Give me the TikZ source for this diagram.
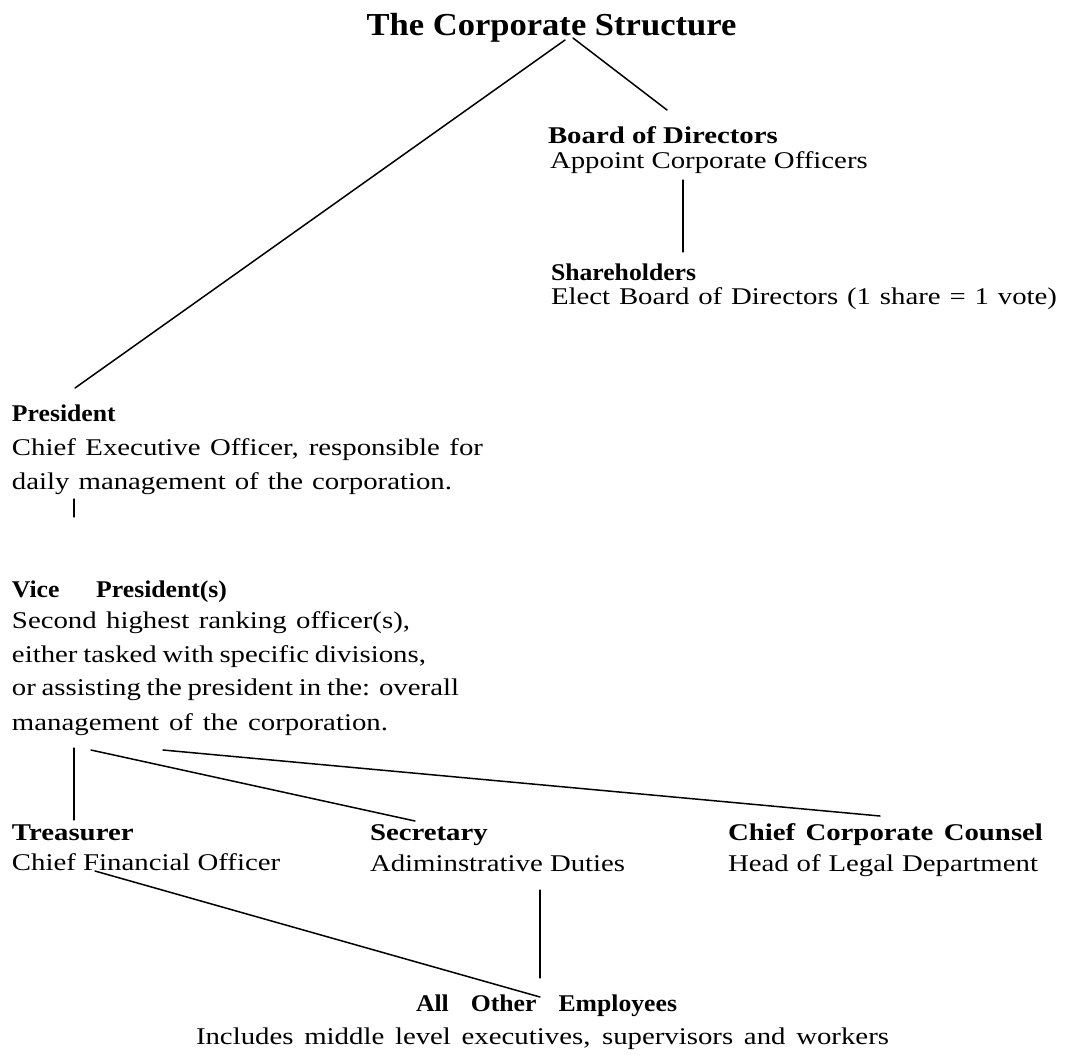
\documentclass[tikz,border=0pt]{standalone}
\usepackage{fontspec}
\setmainfont{Liberation Serif}[FakeStretch=1.2]
\newfontfamily\titlefont{Liberation Serif}[FakeStretch=1.08]
\newfontfamily\condfont{Liberation Serif}[FakeStretch=1.07]
\usetikzlibrary{calc}
\begin{document}
\begin{tikzpicture}[x=1pt,y=-1pt,
  txt/.style={anchor=base west,inner sep=0pt,outer sep=0pt,font=\fontsize{24}{30}\selectfont},
  hdr/.style={txt,font=\fontsize{24}{30}\selectfont\bfseries},
  condhdr/.style={txt,font=\fontsize{24}{30}\selectfont\condfont\bfseries},
  link/.style={line width=1.5pt,line cap=round},
  vlink/.style={line width=1.2pt,line cap=round}]
\useasboundingbox[fill=white] (0,0) rectangle (1067,1055);

% title
\node[anchor=base,inner sep=0pt,outer sep=0pt,font=\fontsize{32}{36}\selectfont\titlefont\bfseries] (title) at (551.5,35) {The Corporate Structure};

% right branch
\node[hdr] (board) at (548,143) {Board of Directors};
\node[txt] (appoint) at (550,168) {Appoint Corporate Officers};
\node[condhdr] (share) at (551,280) {Shareholders};
\node[txt] (elect) at (551,304) {\makebox[506pt][s]{Elect Board of Directors (1 share = 1 vote)}};

% president
\node[condhdr] (pres) at (12,421) {President};
\node[txt] (ceo) at (12,455) {\makebox[471pt][s]{Chief Executive Officer, responsible for}};
\node[txt] (daily) at (12,489) {\makebox[440pt][s]{daily management of the corporation.}};

% vice president
\node[condhdr] (vp) at (12,597) {\makebox[215pt][s]{Vice President(s)}};
\node[txt] (vp1) at (12,628) {\makebox[398pt][s]{Second highest ranking officer(s),}};
\node[txt] (vp2) at (12,662) {\makebox[414pt][s]{either tasked with specific divisions,}};
\node[txt] (vp3) at (12,695) {\makebox[447pt][s]{or assisting the president in the: overall}};
\node[txt] (vp4) at (12,730) {\makebox[376pt][s]{management of the corporation.}};

% officers
\node[hdr] (treas) at (12,840) {Treasurer};
\node[txt] (cfo) at (12,870) {Chief Financial Officer};
\node[hdr] (sec) at (370,840) {Secretary};
\node[txt] (admin) at (370,871) {Adiminstrative Duties};
\node[hdr] (counsel) at (728,840) {\makebox[315pt][s]{Chief Corporate Counsel}};
\node[txt] (legal) at (728,871) {\makebox[310pt][s]{Head of Legal Department}};

% employees
\node[condhdr,anchor=base] (allemp) at (546.5,1011) {\makebox[261pt][s]{All Other Employees}};
\node[txt,anchor=base] (incl) at (542.5,1044) {\makebox[693pt][s]{Includes middle level executives, supervisors and workers}};

% connectors
\draw[link] ($(title.base)+(13.5,5)$) -- ($(pres.base west)+(63,-33)$);
\draw[link] ($(title.base)+(21.5,3)$) -- ($(board.base west)+(119,-33)$);
\draw[vlink] ($(appoint.base west)+(133,12)$) -- ($(share.base west)+(132,-28)$);
\draw[vlink] ($(daily.base west)+(62,10)$) -- ($(vp.base west)+(62,-80)$);
\draw[vlink] ($(vp4.base west)+(62,18)$) -- ($(treas.base west)+(62,-20)$);
\draw[link] ($(vp4.base west)+(79,20)$) -- ($(sec.base west)+(45,-19)$);
\draw[link] ($(vp4.base west)+(151,20)$) -- ($(counsel.base west)+(152,-24)$);
\draw[link] ($(cfo.base west)+(83,1)$) -- ($(allemp.base)+(-6.5,-14)$);
\draw[vlink] ($(admin.base west)+(170,19)$) -- ($(allemp.base)+(-6.5,-33)$);
\end{tikzpicture}
\end{document}
